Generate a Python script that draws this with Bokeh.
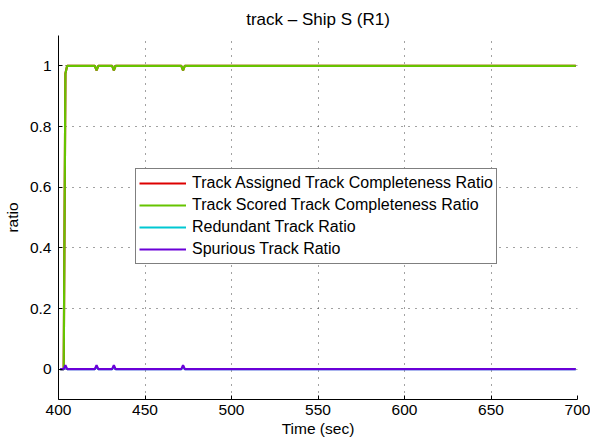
from bokeh.plotting import figure
from bokeh.models import Legend, LegendItem, Range1d, FixedTicker
from bokeh.embed import file_html
from bokeh.resources import INLINE

# Track metric time series (breakpoints, seconds / ratio)
t_scored = [401, 403, 404, 405, 421, 422, 423, 431, 432, 433, 471, 472, 473, 699]
scored = [0, 0, 0.975, 1, 1, 0.985, 1, 1, 0.985, 1, 1, 0.985, 1, 1]

t_assigned = t_scored
assigned = scored

t_redundant = [401, 403, 404, 405, 421, 422, 423, 431, 432, 433, 471, 472, 473, 699]
redundant = [0, 0, 0.007, 0, 0, 0.007, 0, 0, 0.007, 0, 0, 0.007, 0, 0]

t_spurious = [401, 403, 404, 405, 421, 422, 423, 431, 432, 433, 471, 472, 473, 699]
spurious = [0, 0, 0.013, 0, 0, 0.013, 0, 0, 0.013, 0, 0, 0.013, 0, 0]

x_ticks = [400, 450, 500, 550, 600, 650, 700]
y_ticks = [0, 0.2, 0.4, 0.6, 0.8, 1]

FONT = "Liberation Sans"

p = figure(width=590, height=442, output_backend="svg", toolbar_location=None,
           x_range=Range1d(400, 700), y_range=Range1d(-0.1, 1.1),
           min_border_left=56, min_border_right=13, min_border_top=35,
           min_border_bottom=43)
p.outline_line_color = None
p.background_fill_color = "white"

p.title.text = "track \u2013 Ship S (R1)"
p.title.align = "center"
p.title.text_font = FONT
p.title.text_font_size = "17px"
p.title.text_font_style = "normal"
p.title.text_color = "black"
p.title.standoff = 14

for ax in (p.xaxis[0], p.yaxis[0]):
    ax.major_label_text_font = FONT
    ax.major_label_text_font_size = "15.5px"
    ax.major_label_text_color = "black"
    ax.axis_label_text_font = FONT
    ax.axis_label_text_font_size = "15.5px"
    ax.axis_label_text_font_style = "normal"
    ax.axis_label_text_color = "black"
    ax.axis_line_color = "black"
    ax.major_tick_line_color = "black"
    ax.major_tick_in = 4
    ax.major_tick_out = 0
    ax.minor_tick_line_color = None

p.xaxis.ticker = FixedTicker(ticks=x_ticks)
p.yaxis.ticker = FixedTicker(ticks=y_ticks)
p.yaxis.major_label_overrides = {0: "0", 1: "1"}
p.xaxis.axis_label = "Time (sec)"
p.yaxis.axis_label = "ratio"
p.xaxis.axis_label_standoff = 2
p.yaxis.axis_label_standoff = 6
p.xaxis.major_label_standoff = 5
p.yaxis.major_label_standoff = 7

for g in (p.xgrid[0], p.ygrid[0]):
    g.grid_line_color = "#444444"
    g.grid_line_dash = "1 6"
    g.grid_line_width = 1

r_assigned = p.line(t_assigned, assigned, line_color="#dd0000", line_width=2.2)
r_scored = p.line(t_scored, scored, line_color="#66c400", line_width=2.2)
r_redundant = p.line(t_redundant, redundant, line_color="#00c8d2", line_width=2.2)
r_spurious = p.line(t_spurious, spurious, line_color="#6a00d8", line_width=2.2)

legend = Legend(items=[
    LegendItem(label="Track Assigned Track Completeness Ratio", renderers=[r_assigned]),
    LegendItem(label="Track Scored Track Completeness Ratio", renderers=[r_scored]),
    LegendItem(label="Redundant Track Ratio", renderers=[r_redundant]),
    LegendItem(label="Spurious Track Ratio", renderers=[r_spurious]),
], location=(77, 135))
legend.label_text_font = FONT
legend.label_text_font_size = "16px"
legend.label_text_color = "black"
legend.label_height = 22
legend.glyph_height = 22
legend.glyph_width = 47
legend.label_standoff = 6
legend.spacing = 0
legend.padding = 3
legend.margin = 0
legend.border_line_color = "black"
legend.border_line_width = 1
legend.background_fill_alpha = 1
p.add_layout(legend, "center")

open("out.html", "w").write(file_html(p, INLINE))
